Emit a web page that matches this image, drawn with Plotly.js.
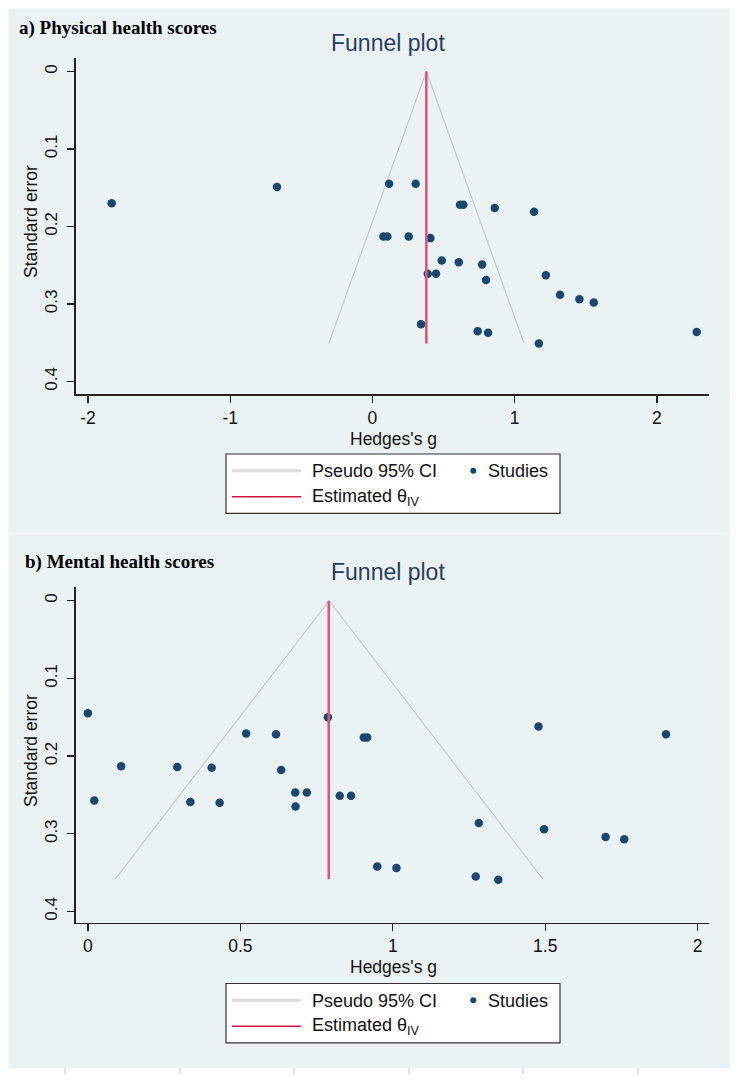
<!DOCTYPE html>
<html>
<head>
<meta charset="utf-8">
<script src="https://cdn.plot.ly/plotly-3.0.1.min.js"></script>
<style>html,body{margin:0;padding:0;background:#fff;}#chart{width:738px;height:1080px;}</style>
</head>
<body>
<div id="chart"></div>
<script>
// ---------- data ----------
// a) Physical health scores
const physG  = [-1.833, -0.671, 0.117, 0.304, 0.616, 0.639, 0.860, 1.136, 0.077, 0.105, 0.255, 0.407, 0.487, 0.607, 0.771, 0.389, 0.447, 0.799, 1.219, 1.319, 1.455, 1.556, 0.342, 0.740, 0.813, 1.170, 2.280];
const physSE = [0.170, 0.149, 0.145, 0.145, 0.172, 0.172, 0.176, 0.181, 0.213, 0.213, 0.213, 0.215, 0.244, 0.246, 0.249, 0.261, 0.261, 0.269, 0.263, 0.288, 0.294, 0.298, 0.326, 0.335, 0.337, 0.351, 0.336];
const physCIx = [-0.307, 0.379, 1.066];
const physCIy = [0.351, 0, 0.351];
const physThetaX = [0.379, 0.379];
const physThetaY = [0, 0.351];

// b) Mental health scores
const mentG  = [0.000, 0.109, 0.021, 0.293, 0.336, 0.406, 0.432, 0.519, 0.617, 0.634, 0.680, 0.718, 0.681, 0.787, 0.826, 0.863, 0.905, 0.916, 0.949, 1.012, 1.478, 1.896, 1.282, 1.496, 1.698, 1.759, 1.272, 1.346];
const mentSE = [0.145, 0.213, 0.257, 0.214, 0.259, 0.215, 0.260, 0.171, 0.172, 0.218, 0.247, 0.247, 0.265, 0.150, 0.251, 0.251, 0.176, 0.176, 0.342, 0.344, 0.162, 0.172, 0.286, 0.294, 0.304, 0.307, 0.355, 0.359];
const mentCIx = [0.089, 0.791, 1.493];
const mentCIy = [0.3586, 0, 0.3586];
const mentThetaX = [0.790, 0.790];
const mentThetaY = [0, 0.3586];

const physXTicks = [-2, -1, 0, 1, 2];
const mentXTicks = [0, 0.5, 1, 1.5, 2];
const seTicks = [0, 0.1, 0.2, 0.3, 0.4];
const seTickText = ['0', '0.1', '0.2', '0.3', '0.4'];

const panelLabels = ['a) Physical health scores', 'b) Mental health scores'];
const plotTitle = 'Funnel plot';
const xTitle = "Hedges's g";
const yTitle = 'Standard error';
const legendLabels = ['Pseudo 95% CI', 'Studies', 'Estimated θ<sub>IV</sub>'];

// ---------- style ----------
const W = 738, H = 1080;
const BG = '#eaf2f3';
const NAVY = '#1a476f';
const CI_COL = '#c9c9c9';
const TH_COL = '#d8587c';
const SANS = 'Liberation Sans, Arial, sans-serif';
const SERIF = 'Liberation Serif, Times New Roman, serif';
const px = x => x / W;
const py = y => 1 - y / H;

const traces = [];
function panel(xa, ya, g, se, cix, ciy, tx, ty) {
  traces.push({x: cix, y: ciy, xaxis: xa, yaxis: ya, mode: 'lines', type: 'scatter',
    line: {color: CI_COL, width: 1.2}, hoverinfo: 'skip', showlegend: false});
  traces.push({x: g, y: se, xaxis: xa, yaxis: ya, mode: 'markers', type: 'scatter',
    marker: {color: NAVY, size: 8.5}, showlegend: false});
  traces.push({x: tx, y: ty, xaxis: xa, yaxis: ya, mode: 'lines', type: 'scatter',
    line: {color: TH_COL, width: 2.6}, hoverinfo: 'skip', showlegend: false});
}
panel('x', 'y', physG, physSE, physCIx, physCIy, physThetaX, physThetaY);
panel('x2', 'y2', mentG, mentSE, mentCIx, mentCIy, mentThetaX, mentThetaY);

const tickFont = {family: SANS, size: 17.5, color: '#111'};
function xAxis(domain, range, ticks, anchor) {
  return {domain, range, anchor, tickmode: 'array', tickvals: ticks,
    ticktext: ticks.map(String), showgrid: false, zeroline: false,
    showline: true, linecolor: '#222', linewidth: 1.4, ticks: 'outside', ticklen: 7,
    tickcolor: '#222', tickwidth: 1.2, tickfont: tickFont, fixedrange: true};
}
function yAxis(domain, range, anchor) {
  return {domain, range, anchor, tickmode: 'array', tickvals: seTicks, ticktext: seTickText,
    tickangle: -90, showgrid: true, gridcolor: BG, gridwidth: 1.2, zeroline: false,
    showline: true, linecolor: '#222', linewidth: 1.4, ticks: 'outside', ticklen: 7,
    tickcolor: '#222', tickwidth: 1.2, tickfont: {family: SANS, size: 17, color: '#111'},
    ticklabelstandoff: 4, fixedrange: true};
}

const xDom = [px(75.7), px(709)];
const layout = {
  width: W, height: H, margin: {l: 0, r: 0, t: 0, b: 0},
  paper_bgcolor: '#ffffff', plot_bgcolor: '#ffffff', showlegend: false,
  xaxis: xAxis(xDom, [-2.086, 2.366], physXTicks, 'y'),
  yaxis: yAxis([py(394.3), py(58.3)], [0.4165, -0.017], 'x'),
  xaxis2: xAxis(xDom, [-0.040, 2.037], mentXTicks, 'y2'),
  yaxis2: yAxis([py(922.7), py(587.3)], [0.4144, -0.0172], 'x2'),
  shapes: [], annotations: []
};

// panel backgrounds
layout.shapes.push({type: 'rect', xref: 'paper', yref: 'paper', layer: 'below',
  x0: px(8.5), x1: px(730), y0: py(8.3), y1: py(533), fillcolor: BG, line: {width: 0}});
layout.shapes.push({type: 'rect', xref: 'paper', yref: 'paper', layer: 'below',
  x0: px(8.5), x1: px(730), y0: py(534), y1: py(1068), fillcolor: BG, line: {width: 0}});
// small marks under the figure
[65, 180, 294, 409, 523, 638].forEach(x => layout.shapes.push({type: 'line', xref: 'paper', yref: 'paper',
  x0: px(x), x1: px(x), y0: py(1068), y1: py(1074), line: {color: '#c8c8c8', width: 1}}));

function decorate(off, label, labelX, labelY, titleY, yTitleY, xTitleY) {
  layout.annotations.push({xref: 'paper', yref: 'paper', x: px(labelX), y: py(labelY), xanchor: 'left', yanchor: 'middle',
    text: '<b>' + label + '</b>', showarrow: false, font: {family: SERIF, size: 19, color: '#000'}});
  layout.annotations.push({xref: 'paper', yref: 'paper', x: px(388), y: py(titleY), xanchor: 'center', yanchor: 'middle',
    text: plotTitle, showarrow: false, font: {family: SANS, size: 23, color: '#2b3d5e'}});
  layout.annotations.push({xref: 'paper', yref: 'paper', x: px(31), y: py(yTitleY), xanchor: 'center', yanchor: 'middle',
    text: yTitle, textangle: -90, showarrow: false, font: {family: SANS, size: 17.5, color: '#111'}});
  layout.annotations.push({xref: 'paper', yref: 'paper', x: px(393.5), y: py(xTitleY), xanchor: 'center', yanchor: 'middle',
    text: xTitle, showarrow: false, font: {family: SANS, size: 17.5, color: '#111'}});
  // legend box
  layout.shapes.push({type: 'rect', xref: 'paper', yref: 'paper', x0: px(226), x1: px(560), y0: py(454 + off), y1: py(513.3 + off),
    fillcolor: '#ffffff', line: {color: '#333', width: 1.2}});
  layout.shapes.push({type: 'line', xref: 'paper', yref: 'paper', x0: px(232), x1: px(301), y0: py(470.7 + off), y1: py(470.7 + off),
    line: {color: '#dcdcdc', width: 3}});
  layout.shapes.push({type: 'line', xref: 'paper', yref: 'paper', x0: px(232), x1: px(301), y0: py(496.7 + off), y1: py(496.7 + off),
    line: {color: '#d2143f', width: 1.5}});
  layout.shapes.push({type: 'circle', xref: 'paper', yref: 'paper', x0: px(470.3), x1: px(476.3), y0: py(467.7 + off), y1: py(473.7 + off),
    fillcolor: NAVY, line: {width: 0}});
  const lf = {family: SANS, size: 18, color: '#111'};
  layout.annotations.push({xref: 'paper', yref: 'paper', x: px(310), y: py(471 + off), xanchor: 'left', yanchor: 'middle',
    text: legendLabels[0], showarrow: false, font: lf});
  layout.annotations.push({xref: 'paper', yref: 'paper', x: px(486), y: py(471 + off), xanchor: 'left', yanchor: 'middle',
    text: legendLabels[1], showarrow: false, font: lf});
  layout.annotations.push({xref: 'paper', yref: 'paper', x: px(310), y: py(497 + off), xanchor: 'left', yanchor: 'middle',
    text: legendLabels[2], showarrow: false, font: lf});
}
decorate(0, panelLabels[0], 17, 28.3, 43.3, 222, 438.5);
decorate(529.5, panelLabels[1], 23, 561.7, 571.7, 751, 967);

Plotly.newPlot('chart', traces, layout, {displayModeBar: false, staticPlot: true});
</script>
</body>
</html>
